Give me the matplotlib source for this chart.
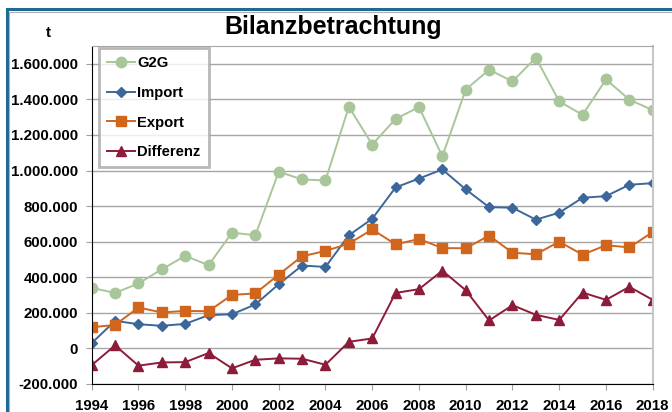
import matplotlib.pyplot as plt
from matplotlib.patches import Rectangle
from matplotlib.ticker import FuncFormatter, MultipleLocator

plt.rcParams['font.family'] = ['Liberation Sans', 'DejaVu Sans']
plt.rcParams['font.weight'] = 'bold'

# Werte in t
years = list(range(1994, 2019))
g2g = [340000, 312000, 365000, 445000, 520000, 468000, 651000, 636000, 993000,
       950000, 944000, 1359000, 1146000, 1290000, 1357000, 1080000, 1455000,
       1567000, 1501000, 1634000, 1389000, 1313000, 1512000, 1399000, 1339000]
imports = [30000, 155000, 136000, 127000, 138000, 187000, 192000, 247000, 361000,
           466000, 458000, 636000, 729000, 905000, 955000, 1006000, 894000,
           794000, 791000, 724000, 763000, 847000, 856000, 920000, 929000]
exports = [119000, 132000, 230000, 202000, 211000, 209000, 301000, 309000, 415000,
           518000, 548000, 589000, 669000, 585000, 615000, 564000, 563000,
           634000, 538000, 529000, 600000, 527000, 580000, 568000, 654000]
differenz = [-94000, 17000, -97000, -79000, -77000, -26000, -112000, -64000, -56000,
             -58000, -92000, 37000, 56000, 312000, 333000, 437000, 327000,
             157000, 243000, 189000, 160000, 314000, 273000, 346000, 273000]

fig = plt.figure(figsize=(6.72, 4.12), dpi=100)
ax = fig.add_axes([0.1365, 0.068, 0.8348, 0.8203])

ax.plot(years, g2g, color='#a8c69a', marker='o', markersize=7.5, lw=1.4, label='G2G')
ax.plot(years, imports, color='#3c679b', marker='D', markersize=5.5, lw=1.4, label='Import')
ax.plot(years, exports, color='#d0651e', marker='s', markersize=7, lw=1.4, label='Export')
ax.plot(years, differenz, color='#8c1c3a', marker='^', markersize=7.5, lw=1.4, label='Differenz')

ax.set_xlim(1994, 2018)
ax.set_ylim(-200000, 1700000)
ax.xaxis.set_major_locator(MultipleLocator(2))
ax.yaxis.set_major_locator(MultipleLocator(200000))
ax.yaxis.set_major_formatter(FuncFormatter(lambda v, p: f'{int(v):,}'.replace(',', '.')))
ax.grid(axis='y', color='#a6a6a6', lw=1)
ax.set_axisbelow(True)
ax.tick_params(axis='both', length=4, color='#a0a0a0', labelsize=10.8)
ax.tick_params(axis='y', pad=6)
ax.tick_params(axis='x', pad=7)
for lab in ax.get_xticklabels() + ax.get_yticklabels():
    lab.set_fontweight('bold')

ax.spines['left'].set_color('black')
ax.spines['bottom'].set_color('black')
ax.spines['top'].set_color('#a6a6a6')
ax.spines['right'].set_color('#c8c8c8')
ax.spines['right'].set_linewidth(1.5)

leg = ax.legend(loc='upper left', bbox_to_anchor=(99 / 672, 1 - 48 / 412),
                bbox_transform=fig.transFigure, frameon=True, fancybox=False,
                edgecolor='#a6a6a6', fontsize=10.6, handlelength=1.9,
                handletextpad=0.15, labelspacing=1.07, borderpad=0.55,
                borderaxespad=0)
leg.get_frame().set_linewidth(2)
for t in leg.get_texts():
    t.set_fontweight('bold')

fig.text(0.496, 0.935, 'Bilanzbetrachtung', ha='center', va='center',
         fontsize=18, fontweight='bold')
fig.text(48 / 672, 1 - 33 / 412, 't', ha='center', va='center',
         fontsize=11, fontweight='bold')

# Rahmen des Diagramms
fig.patches.append(Rectangle((6.5 / 672, -0.1), 1.2, 1 - 9.5 / 412 + 0.1,
                             transform=fig.transFigure, fill=False,
                             edgecolor='#1f6a94', lw=2.2))
fig.patches.append(Rectangle((9 / 672, -0.1), 1.2, 1 - 12 / 412 + 0.1,
                             transform=fig.transFigure, fill=False,
                             edgecolor='#b0b0b0', lw=0.8))

fig.savefig('out.png', dpi=100)
